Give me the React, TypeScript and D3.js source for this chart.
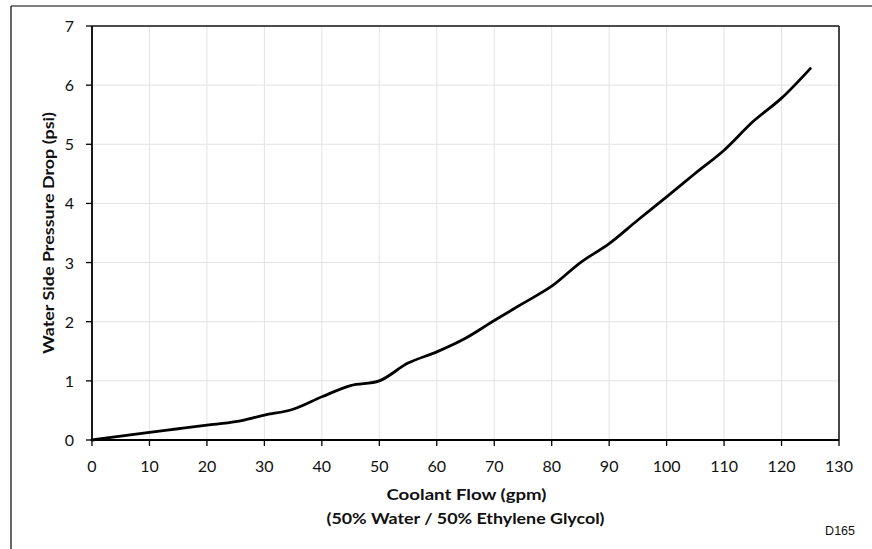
import React from "react";
import * as d3 from "d3";

// Coolant flow (gpm) and the matching water side pressure drop (psi)
const flowGpm = [0, 5, 10, 15, 20, 25, 30, 35, 40, 45, 50, 55, 60, 65, 70, 75, 80, 85, 90, 95, 100, 105, 110, 115, 120, 125];
const dropPsi = [0, 0.065, 0.13, 0.19, 0.25, 0.31, 0.42, 0.52, 0.73, 0.92, 1.0, 1.3, 1.49, 1.72, 2.02, 2.31, 2.6, 3.0, 3.32, 3.72, 4.11, 4.51, 4.9, 5.38, 5.78, 6.28];

const xTicks = [0, 10, 20, 30, 40, 50, 60, 70, 80, 90, 100, 110, 120, 130];
const yTicks = [0, 1, 2, 3, 4, 5, 6, 7];

const W = 872;
const H = 549;
const left = 92;
const right = 839;
const top = 26;
const bottom = 440;

const labelFont = "Lato, 'Open Sans', sans-serif";

export default function App() {
  const x = d3.scaleLinear().domain([0, 130]).range([left, right]);
  const y = d3.scaleLinear().domain([0, 7]).range([bottom, top]);

  const pts: [number, number][] = flowGpm.map((f, i) => [f, dropPsi[i]]);
  const line = d3
    .line<[number, number]>()
    .x((d) => x(d[0]))
    .y((d) => y(d[1]))
    .curve(d3.curveCatmullRom.alpha(0.5));

  const cx = (left + right) / 2;
  const cy = (top + bottom) / 2;

  return (
    <svg
      width={W}
      height={H}
      style={{ position: "absolute", left: 0, top: 0, background: "#fff" }}
    >
      {/* outer frame */}
      <line x1={11} y1={6} x2={W} y2={6} stroke="#000" strokeWidth={1.2} />
      <line x1={11} y1={6} x2={11} y2={H} stroke="#000" strokeWidth={1.2} />

      {/* grid */}
      {xTicks.slice(1, -1).map((t) => (
        <line key={"gx" + t} x1={x(t)} x2={x(t)} y1={top} y2={bottom} stroke="#e3e3e3" strokeWidth={1} />
      ))}
      {yTicks.slice(1, -1).map((t) => (
        <line key={"gy" + t} x1={left} x2={right} y1={y(t)} y2={y(t)} stroke="#e3e3e3" strokeWidth={1} />
      ))}

      {/* plot box */}
      <line x1={left} x2={right} y1={top} y2={top} stroke="#111" strokeWidth={1.3} />
      <line x1={right} x2={right} y1={top} y2={bottom} stroke="#333" strokeWidth={1.8} />
      <line x1={left} x2={left} y1={top} y2={bottom} stroke="#000" strokeWidth={1.8} />
      <line x1={left} x2={right} y1={bottom} y2={bottom} stroke="#000" strokeWidth={1.8} />

      {/* y ticks */}
      {yTicks.map((t) => (
        <g key={"yt" + t}>
          <line x1={left - 6} x2={left} y1={y(t)} y2={y(t)} stroke="#000" strokeWidth={1.3} />
          <text
            x={74}
            y={y(t) + 6}
            textAnchor="end"
            fontFamily={labelFont}
            fontSize={16}
            fill="#111"
          >
            {t}
          </text>
        </g>
      ))}

      {/* x ticks */}
      {xTicks.map((t) => (
        <g key={"xt" + t}>
          <line x1={x(t)} x2={x(t)} y1={bottom} y2={bottom + 6} stroke="#000" strokeWidth={1.3} />
          <text
            x={x(t)}
            y={472}
            textAnchor="middle"
            fontFamily={labelFont}
            fontSize={16}
            fill="#111"
          >
            {t}
          </text>
        </g>
      ))}

      {/* curve */}
      <path d={line(pts) ?? ""} fill="none" stroke="#000" strokeWidth={2.8} strokeLinecap="round" strokeLinejoin="round" />

      {/* axis titles */}
      <text
        transform={`translate(54,${cy}) rotate(-90)`}
        textAnchor="middle"
        fontFamily={labelFont}
        fontWeight="bold"
        fontSize={15}
        fill="#111"
        textLength={242}
        lengthAdjust="spacingAndGlyphs"
      >
        Water Side Pressure Drop (psi)
      </text>
      <text
        x={cx + 1}
        y={500}
        textAnchor="middle"
        fontFamily={labelFont}
        fontWeight="bold"
        fontSize={15}
        fill="#111"
        textLength={160}
        lengthAdjust="spacingAndGlyphs"
      >
        Coolant Flow (gpm)
      </text>
      <text
        x={cx}
        y={524}
        textAnchor="middle"
        fontFamily={labelFont}
        fontWeight="bold"
        fontSize={15}
        fill="#111"
        textLength={278}
        lengthAdjust="spacingAndGlyphs"
      >
        (50% Water / 50% Ethylene Glycol)
      </text>

      <text
        x={855}
        y={535}
        textAnchor="end"
        fontFamily="'Liberation Sans', Arial, sans-serif"
        fontSize={12.5}
        fill="#111"
      >
        D165
      </text>
    </svg>
  );
}
